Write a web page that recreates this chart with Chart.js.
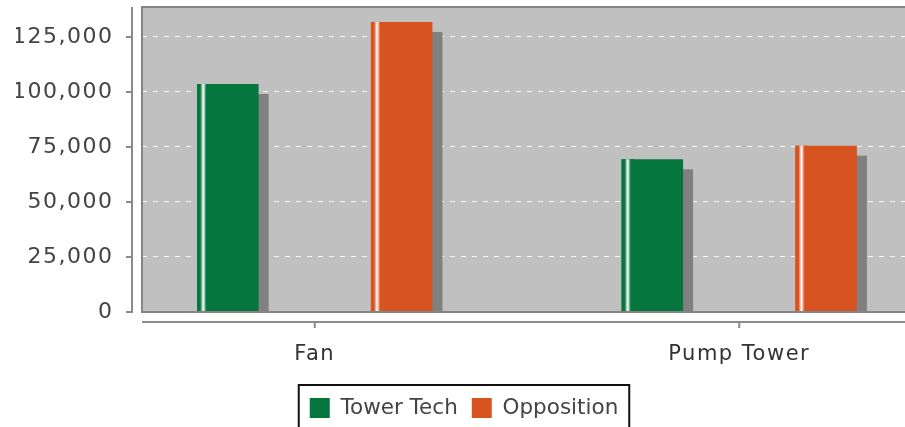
<!DOCTYPE html>
<html>
<head>
<meta charset="utf-8">
<script src="https://cdn.jsdelivr.net/npm/chart.js@4.4.1/dist/chart.umd.min.js"></script>
<style>
  html, body { margin: 0; padding: 0; background: #fff; overflow: hidden; }
  #wrap { width: 928px; height: 440px; }
</style>
</head>
<body>
<div id="wrap"><canvas id="c" width="928" height="440"></canvas></div>
<script>
// data
const categories = ['Fan', 'Pump Tower'];
const towerTech  = [103600, 69400];
const opposition = [131800, 75600];
const yTicks     = [0, 25000, 50000, 75000, 100000, 125000];
const yMax       = 138600;

const GREEN  = '#06763f';
const ORANGE = '#d75421';

// grey plot box, bar shadows, white highlight stripe, axes drawn off the plot
const deco = {
  id: 'deco',
  beforeDraw(chart) {
    const { ctx, chartArea: a } = chart;
    ctx.save();
    ctx.fillStyle = '#c0c0c0';
    ctx.fillRect(a.left, a.top, chart.width - a.left, a.bottom - a.top);
    ctx.restore();
  },
  beforeDatasetsDraw(chart) {
    const { ctx, chartArea: a } = chart;
    ctx.save();
    ctx.beginPath();
    ctx.rect(a.left, a.top, chart.width - a.left, a.bottom - a.top);
    ctx.clip();
    ctx.fillStyle = '#808080';
    chart.data.datasets.forEach((ds, i) => {
      chart.getDatasetMeta(i).data.forEach(b => {
        const w = b.width;
        ctx.fillRect(b.x - w / 2 + 10, b.y + 10, w, b.base - b.y - 10);
      });
    });
    ctx.restore();
  },
  afterDatasetsDraw(chart) {
    const { ctx, chartArea: a, scales } = chart;
    const right = chart.width;
    ctx.save();
    chart.data.datasets.forEach((ds, i) => {
      chart.getDatasetMeta(i).data.forEach(b => {
        const w = b.width, l = b.x - w / 2;
        const g = ctx.createLinearGradient(l, 0, l + w * 0.2, 0);
        g.addColorStop(0, ds.backgroundColor);
        g.addColorStop(0.25, ds.backgroundColor);
        g.addColorStop(0.5, '#ffffff');
        g.addColorStop(0.75, ds.backgroundColor);
        g.addColorStop(1, ds.backgroundColor);
        ctx.fillStyle = g;
        ctx.fillRect(l, b.y, w * 0.2, b.base - b.y);
      });
    });
    // plot border (right side runs off the picture)
    ctx.strokeStyle = '#858585';
    ctx.lineWidth = 2;
    ctx.beginPath();
    ctx.moveTo(right, a.top);
    ctx.lineTo(a.left, a.top);
    ctx.lineTo(a.left, a.bottom);
    ctx.lineTo(right, a.bottom);
    ctx.stroke();
    // y axis line + ticks
    ctx.strokeStyle = '#8a8a8a';
    ctx.beginPath();
    ctx.moveTo(132, a.top);
    ctx.lineTo(132, a.bottom + 1);
    yTicks.forEach(v => {
      const y = scales.y.getPixelForValue(v);
      ctx.moveTo(126, y);
      ctx.lineTo(132, y);
    });
    // x axis line + ticks
    const xb = a.bottom + 10;
    ctx.moveTo(a.left, xb);
    ctx.lineTo(right, xb);
    categories.forEach((c, i) => {
      const x = scales.x.getPixelForValue(i);
      ctx.moveTo(x, xb);
      ctx.lineTo(x, xb + 6);
    });
    ctx.stroke();
    ctx.restore();
    // tick labels drawn after this point (z:1) get the wider Java-like spacing
    ctx.letterSpacing = '1.5px';
  },
  afterDraw(chart) {
    const ctx = chart.ctx;
    ctx.letterSpacing = '0px';
    const hb = chart.legend.legendHitBoxes;
    if (!hb || !hb.length) return;
    const first = hb[0], last = hb[hb.length - 1];
    const cy = first.top + first.height / 2;
    ctx.save();
    ctx.strokeStyle = '#111';
    ctx.lineWidth = 2;
    ctx.strokeRect(first.left - 11, cy - 23, last.left + last.width + 22 - first.left, 60);
    ctx.restore();
  }
};

new Chart(document.getElementById('c'), {
  type: 'bar',
  data: {
    datasets: [
      {
        label: 'Tower Tech',
        data: categories.map((c, i) => ({ x: i, y: towerTech[i] })),
        backgroundColor: GREEN,
        borderWidth: 0
      },
      {
        label: 'Opposition',
        data: categories.map((c, i) => ({ x: i, y: opposition[i] })),
        backgroundColor: ORANGE,
        borderWidth: 0
      }
    ]
  },
  options: {
    responsive: false,
    animation: false,
    categoryPercentage: 0.819,
    barPercentage: 0.354,
    layout: { padding: { top: 7, right: 16, bottom: 11.25, left: 16 } },
    plugins: {
      tooltip: { enabled: false },
      legend: {
        position: 'bottom',
        labels: {
          boxWidth: 20,
          boxHeight: 20,
          padding: 14,
          color: '#444',
          font: { family: 'DejaVu Sans', size: 21.5 }
        }
      }
    },
    scales: {
      x: {
        type: 'linear',
        min: -0.407,
        max: 1.407,
        offset: false,
        grid: { display: false, drawTicks: false },
        border: { display: false },
        afterBuildTicks: s => { s.ticks = categories.map((c, i) => ({ value: i })); },
        afterFit: s => { s.height = 71.25; s.paddingLeft = 0; s.paddingRight = 0; },
        ticks: {
          z: 1,
          autoSkip: false,
          maxRotation: 0,
          padding: 30,
          color: '#333',
          font: { family: 'DejaVu Sans', size: 21 },
          callback: v => categories[v] ?? ''
        }
      },
      y: {
        min: 0,
        max: yMax,
        grid: { color: 'rgba(255,255,255,0.85)', lineWidth: 1, drawTicks: false },
        border: { display: false, dash: [5, 6] },
        afterBuildTicks: s => { s.ticks = yTicks.map(v => ({ value: v })); },
        afterFit: s => { s.width = 126; s.paddingTop = 0; s.paddingBottom = 0; },
        ticks: {
          z: 1,
          padding: 28.5,
          color: '#444',
          font: { family: 'DejaVu Sans', size: 22 },
          callback: v => v.toLocaleString('en-US')
        }
      }
    }
  },
  plugins: [deco]
});
</script>
</body>
</html>
